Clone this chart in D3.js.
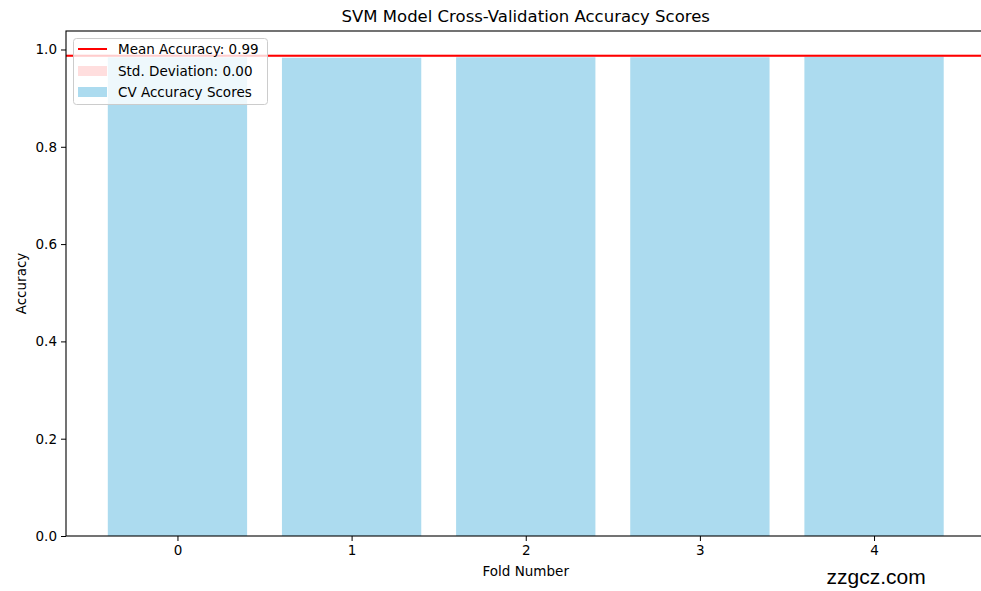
<!DOCTYPE html>
<html><head><meta charset="utf-8">
<script src="https://cdn.jsdelivr.net/npm/d3@7"></script>
<style>body{margin:0;background:#fff;}svg{display:block;font-family:"DejaVu Sans",sans-serif;}</style>
</head><body>
<svg id="c" width="981" height="591"></svg>
<script>
const folds = [0, 1, 2, 3, 4];
const cvScores = [0.984, 0.983, 0.984, 0.984, 0.985];
const meanAccuracy = 0.9873;
const stdDeviation = 0.002;
const yTicks = [0.0, 0.2, 0.4, 0.6, 0.8, 1.0];
const titleText = "SVM Model Cross-Validation Accuracy Scores";
const legendLabels = ["Mean Accuracy: 0.99", "Std. Deviation: 0.00", "CV Accuracy Scores"];

const svg = d3.select("#c");
const L = 66, R = 985.5, T = 31, B = 536;
const x = d3.scaleLinear().domain([-0.64, 4.64]).range([L, R]);
const y = d3.scaleLinear().domain([0, 1.038]).range([B, T]);
const barColor = "#acdbef";

svg.append("clipPath").attr("id","clip").append("rect").attr("x",L).attr("y",T).attr("width",R-L).attr("height",B-T);
const g = svg.append("g").attr("clip-path","url(#clip)");

g.selectAll("rect.bar").data(folds).enter().append("rect")
  .attr("x", d => x(d - 0.4)).attr("width", d => x(d + 0.4) - x(d - 0.4))
  .attr("y", (d,i) => y(cvScores[i])).attr("height", (d,i) => B - y(cvScores[i]))
  .attr("fill", barColor);

g.append("rect").attr("x", L).attr("width", R - L)
  .attr("y", y(meanAccuracy + stdDeviation)).attr("height", y(meanAccuracy - stdDeviation) - y(meanAccuracy + stdDeviation))
  .attr("fill", "red").attr("fill-opacity", 0.2);
g.append("line").attr("x1", L).attr("x2", R).attr("y1", y(meanAccuracy)).attr("y2", y(meanAccuracy))
  .attr("stroke", "red").attr("stroke-width", 2);

// axes
const yAxis = d3.axisLeft(y).tickValues(yTicks).tickFormat(d3.format(".1f")).tickSize(5).tickPadding(4);
const ya = svg.append("g").attr("transform", `translate(${L},0)`).call(yAxis);
const xAxis = d3.axisBottom(x).tickValues(folds).tickFormat(d3.format("d")).tickSize(5).tickPadding(4);
const xa = svg.append("g").attr("transform", `translate(0,${B})`).call(xAxis);
[ya, xa].forEach(a => {
  a.select(".domain").remove();
  a.selectAll("text").attr("font-size", 13.5).attr("fill", "#000").attr("font-family", "DejaVu Sans");
  a.selectAll("line").attr("stroke", "#000");
});
// spines
svg.append("rect").attr("x", L).attr("y", T).attr("width", R - L).attr("height", B - T)
  .attr("fill", "none").attr("stroke", "#000").attr("stroke-width", 1.1);

svg.append("text").attr("x", (L + R) / 2).attr("y", 22).attr("text-anchor", "middle")
  .attr("font-size", 16.5).text(titleText);
svg.append("text").attr("x", (L + R) / 2).attr("y", 576).attr("text-anchor", "middle")
  .attr("font-size", 13.5).text("Fold Number");
svg.append("text").attr("transform", `translate(26,${(T + B) / 2}) rotate(-90)`).attr("text-anchor", "middle")
  .attr("font-size", 13.5).text("Accuracy");

// legend
const lg = svg.append("g");
lg.append("rect").attr("x", 73.5).attr("y", 38.5).attr("width", 194).attr("height", 66).attr("rx", 3)
  .attr("fill", "#fff").attr("fill-opacity", 0.8).attr("stroke", "#cccccc");
lg.append("line").attr("x1", 78).attr("x2", 107).attr("y1", 49).attr("y2", 49).attr("stroke", "red").attr("stroke-width", 2);
lg.append("rect").attr("x", 78).attr("y", 66).attr("width", 29).attr("height", 10).attr("fill", "red").attr("fill-opacity", 0.13);
lg.append("rect").attr("x", 78).attr("y", 87).attr("width", 29).attr("height", 10).attr("fill", barColor);
legendLabels.forEach((t, i) => {
  lg.append("text").attr("x", 118).attr("y", 54 + i * 21.5).attr("font-size", 13.5).text(t);
});

svg.append("text").attr("x", 826.5).attr("y", 584).attr("text-anchor", "start")
  .attr("font-size", 21).attr("font-family", "Liberation Sans, Arial, sans-serif").text("zzgcz.com");
</script>
</body></html>
